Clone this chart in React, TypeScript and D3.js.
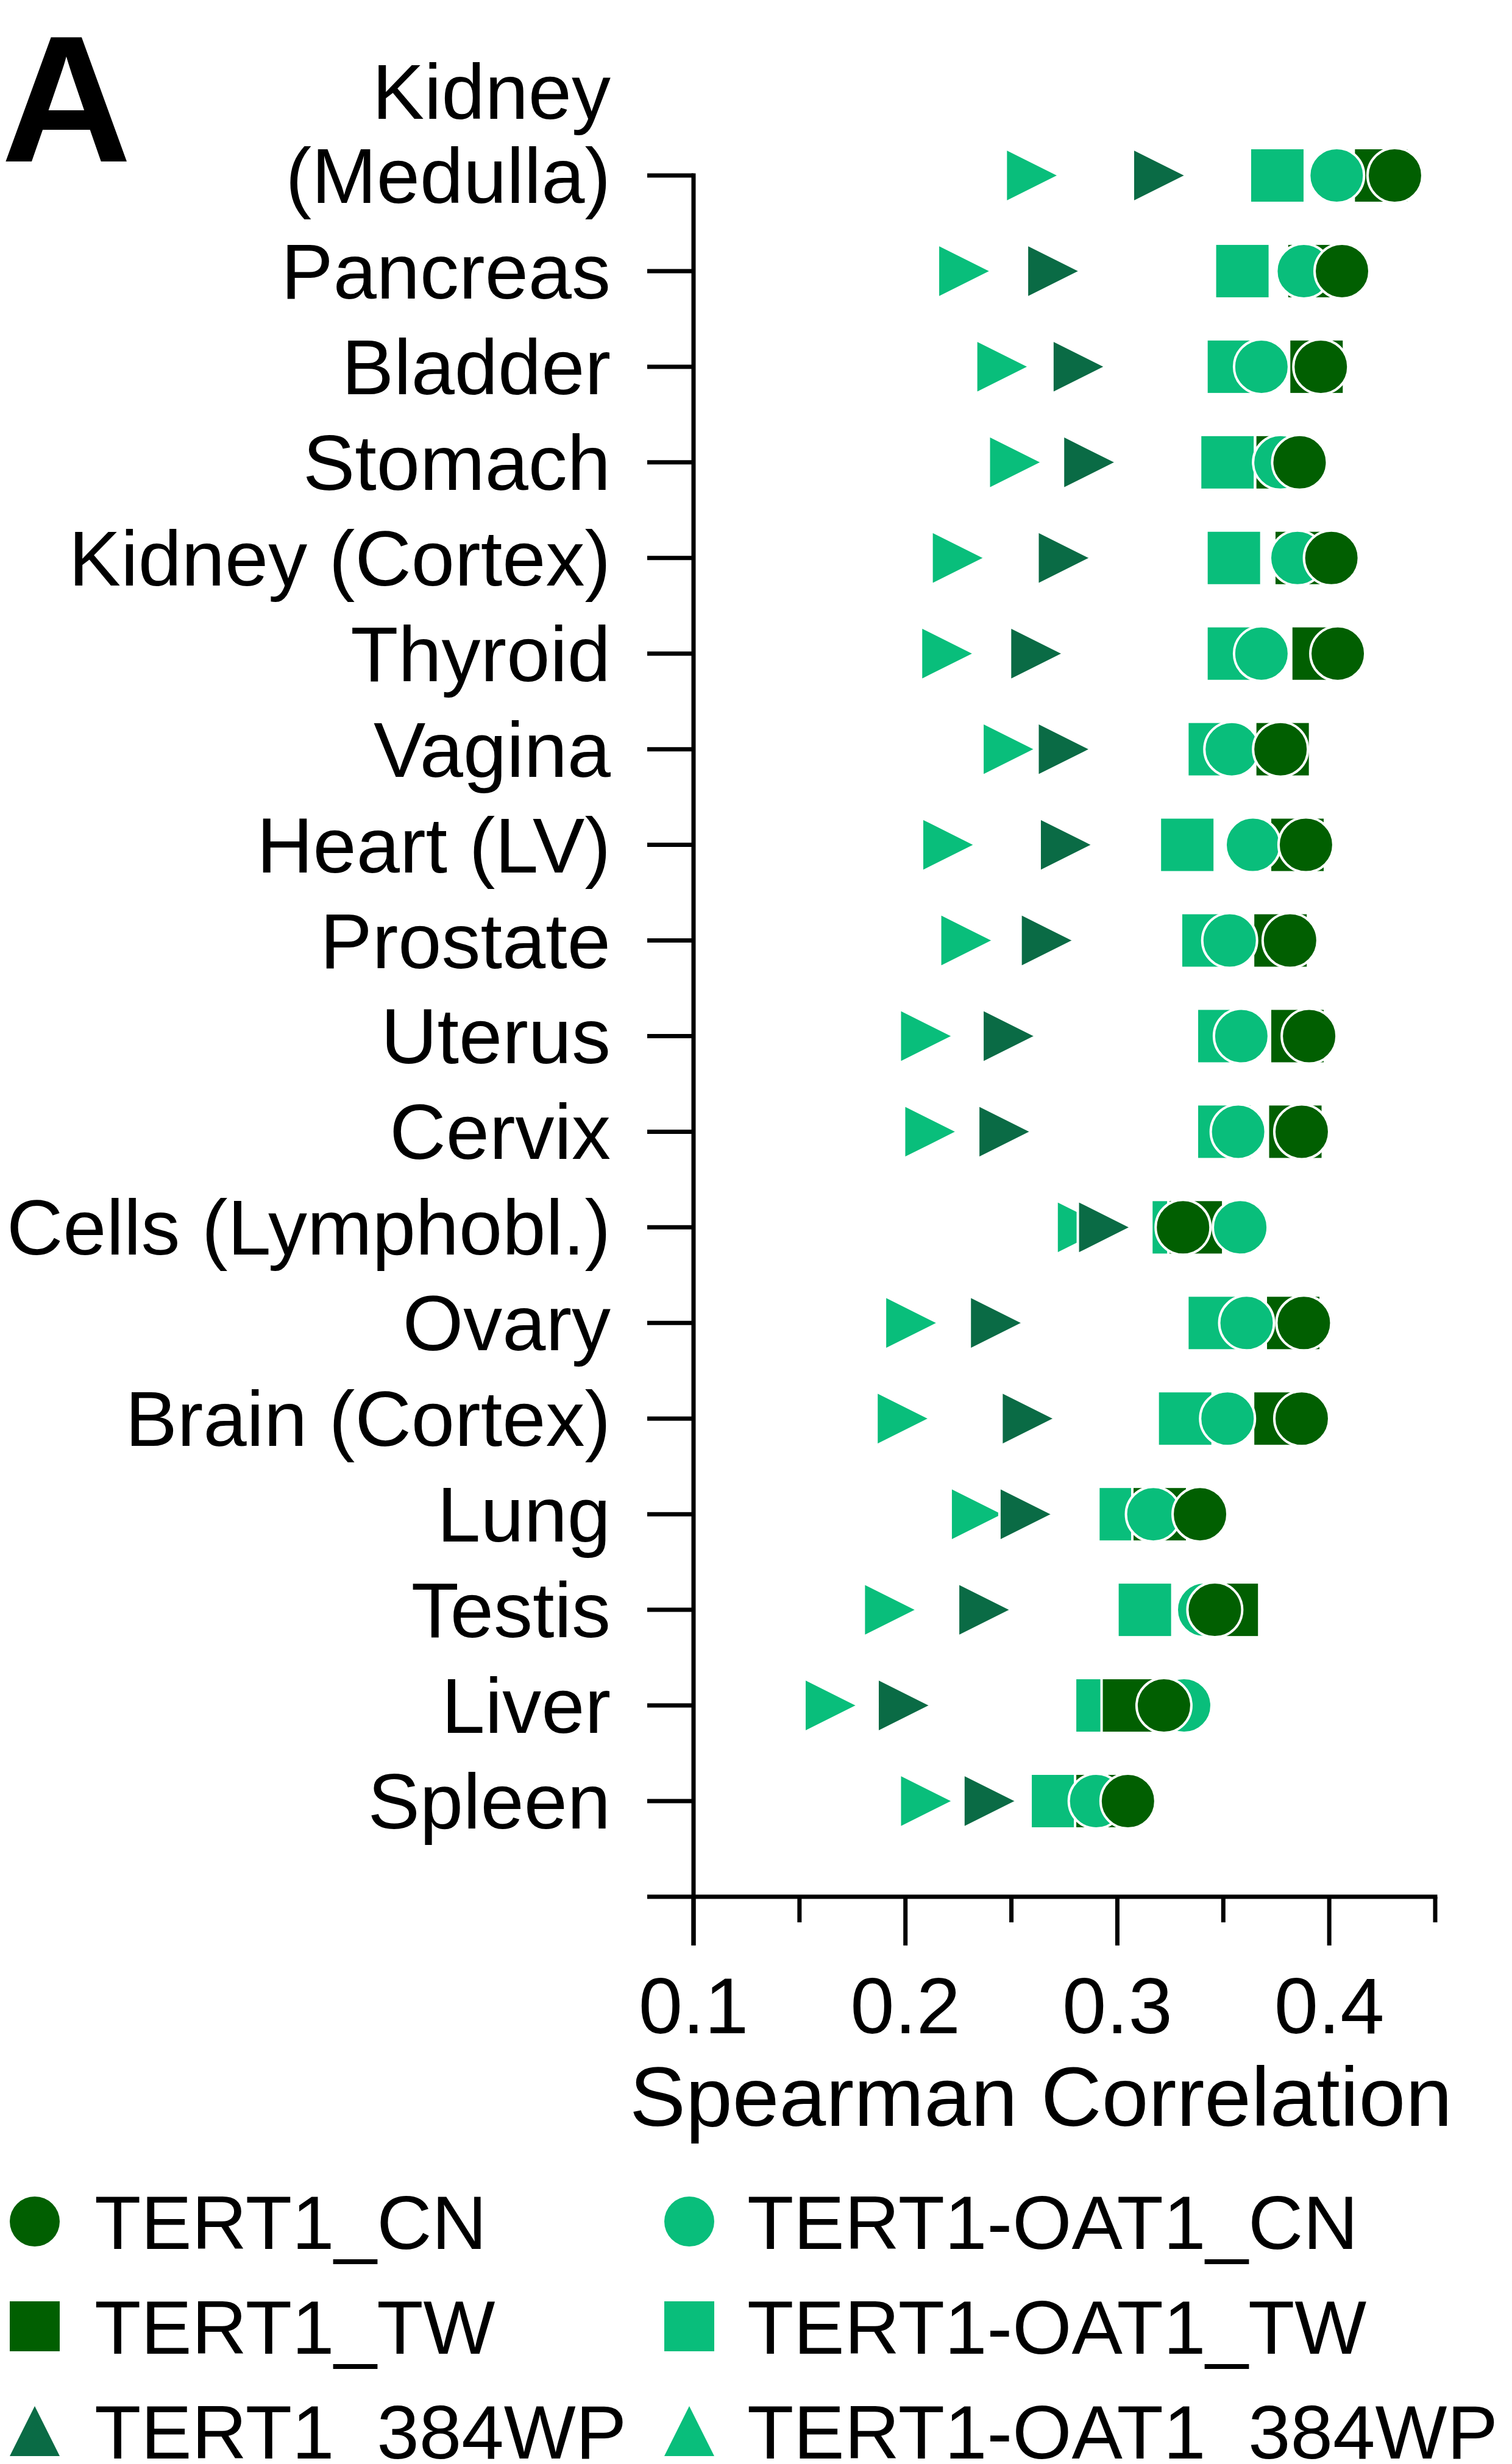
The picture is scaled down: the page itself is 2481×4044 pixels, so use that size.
import React from "react";
import * as d3 from "d3";

const categories = [
  "Kidney (Medulla)", "Pancreas", "Bladder", "Stomach", "Kidney (Cortex)", "Thyroid",
  "Vagina", "Heart (LV)", "Prostate", "Uterus", "Cervix", "Cells (Lymphobl.)",
  "Ovary", "Brain (Cortex)", "Lung", "Testis", "Liver", "Spleen",
];

const tert1CN = [0.431, 0.406, 0.396, 0.386, 0.401, 0.404, 0.377, 0.389, 0.3815, 0.3905, 0.387, 0.331, 0.388, 0.387, 0.339, 0.346, 0.322, 0.305];
const tert1OAT1CN = [0.4035, 0.388, 0.368, 0.377, 0.385, 0.368, 0.354, 0.364, 0.353, 0.3585, 0.357, 0.358, 0.361, 0.352, 0.317, 0.341, 0.3315, 0.29];
const tert1TW = [0.4245, 0.393, 0.394, 0.378, 0.387, 0.395, 0.378, 0.385, 0.377, 0.385, 0.384, 0.337, 0.383, 0.377, 0.32, 0.354, 0.3055, 0.293];
const tert1OAT1TW = [0.3755, 0.359, 0.355, 0.352, 0.355, 0.355, 0.346, 0.333, 0.343, 0.3505, 0.3505, 0.329, 0.346, 0.332, 0.304, 0.313, 0.293, 0.272];
const tert1384WP = [0.32, 0.27, 0.282, 0.287, 0.275, 0.262, 0.275, 0.276, 0.267, 0.249, 0.247, 0.294, 0.243, 0.258, 0.257, 0.2375, 0.1995, 0.24];
const tert1OAT1384WP = [0.26, 0.228, 0.246, 0.252, 0.225, 0.22, 0.249, 0.2205, 0.229, 0.21, 0.212, 0.284, 0.203, 0.199, 0.234, 0.193, 0.165, 0.21];

const majorTicks = [0.1, 0.2, 0.3, 0.4];
const minorTicks = [0.15, 0.25, 0.35, 0.45];

const DARK = "#015f01";
const LIGHT = "#09be7b";
const TEAL = "#0a6b45";

const FONT = "'Liberation Sans', Arial, Helvetica, sans-serif";

type Shape = "circle" | "square" | "triRight" | "triUp";

const seriesDraw: { name: string; values: number[]; shape: Shape; color: string }[] = [
  { name: "TERT1-OAT1_384WP", values: tert1OAT1384WP, shape: "triRight", color: LIGHT },
  { name: "TERT1_384WP", values: tert1384WP, shape: "triRight", color: TEAL },
  { name: "TERT1-OAT1_TW", values: tert1OAT1TW, shape: "square", color: LIGHT },
  { name: "TERT1_TW", values: tert1TW, shape: "square", color: DARK },
  { name: "TERT1-OAT1_CN", values: tert1OAT1CN, shape: "circle", color: LIGHT },
  { name: "TERT1_CN", values: tert1CN, shape: "circle", color: DARK },
];

const legendItems: { name: string; shape: Shape; color: string }[] = [
  { name: "TERT1_CN", shape: "circle", color: DARK },
  { name: "TERT1-OAT1_CN", shape: "circle", color: LIGHT },
  { name: "TERT1_TW", shape: "square", color: DARK },
  { name: "TERT1-OAT1_TW", shape: "square", color: LIGHT },
  { name: "TERT1_384WP", shape: "triUp", color: TEAL },
  { name: "TERT1-OAT1_384WP", shape: "triUp", color: LIGHT },
];

function Marker({ shape, cx, cy, size, color, stroke }: { shape: Shape; cx: number; cy: number; size: number; color: string; stroke: boolean }) {
  const h = size / 2;
  const sw = stroke ? 4 : 0;
  const common = { fill: color, stroke: stroke ? "#fff" : "none", strokeWidth: sw };
  if (shape === "circle") return <ellipse cx={cx} cy={cy} rx={h} ry={h} {...common} />;
  if (shape === "square") return <rect x={cx - h} y={cy - h} width={size} height={size} {...common} />;
  if (shape === "triRight")
    return <path d={`M${cx - h},${cy - h} L${cx + h},${cy} L${cx - h},${cy + h} Z`} {...common} strokeLinejoin="miter" />;
  return <path d={`M${cx},${cy - h} L${cx + h},${cy + h} L${cx - h},${cy + h} Z`} {...common} />;
}

export default function App() {
  const x = d3.scaleLinear().domain([0.1, 0.45]).range([1138, 2355]);
  const y = d3.scalePoint<string>().domain(categories).range([288, 2956]);
  const axisY = 3113;
  const axisX = x(0.1);

  return (
    <svg
      width={2481}
      height={4044}
      viewBox="0 0 2481 4044"
      style={{ position: "absolute", left: 0, top: 0, background: "#fff" }}
      fontFamily={FONT}
    >
      <rect x={0} y={0} width={2481} height={4044} fill="#fff" />
      {/* Panel letter */}
      <text x={2} y={265} fontSize={296} fontWeight="bold" fill="#000">A</text>

      {/* Y axis */}
      <line x1={axisX} x2={axisX} y1={y(categories[0])! - 3.5} y2={axisY + 80} stroke="#000" strokeWidth={7} />
      {categories.map((c) => (
        <line key={"yt" + c} x1={1062} x2={axisX} y1={y(c)} y2={y(c)} stroke="#000" strokeWidth={7} />
      ))}
      {categories.map((c) => {
        const yy = y(c)!;
        if (c === "Kidney (Medulla)") {
          return (
            <g key={"yl" + c}>
              <text x={1002} y={yy - 93} textAnchor="end" fontSize={128} fill="#000">Kidney</text>
              <text x={1002} y={yy + 45} textAnchor="end" fontSize={128} fill="#000">(Medulla)</text>
            </g>
          );
        }
        return (
          <text key={"yl" + c} x={1002} y={yy + 45} textAnchor="end" fontSize={128} fill="#000">{c}</text>
        );
      })}

      {/* X axis */}
      <line x1={1062} x2={x(0.45) + 3.5} y1={axisY} y2={axisY} stroke="#000" strokeWidth={7} />
      {majorTicks.map((t) => (
        <line key={"mt" + t} x1={x(t)} x2={x(t)} y1={axisY} y2={axisY + 80} stroke="#000" strokeWidth={7} />
      ))}
      {minorTicks.map((t) => (
        <line key={"nt" + t} x1={x(t)} x2={x(t)} y1={axisY} y2={axisY + 42} stroke="#000" strokeWidth={7} />
      ))}
      {majorTicks.map((t) => (
        <text key={"tl" + t} x={x(t)} y={3337} textAnchor="middle" fontSize={130} fill="#000">{d3.format(".1f")(t)}</text>
      ))}
      <text x={1708} y={3489} textAnchor="middle" fontSize={138} fill="#000">Spearman Correlation</text>

      {/* Markers */}
      {seriesDraw.map((s) => (
        <g key={s.name}>
          {categories.map((c, i) => (
            <Marker key={c} shape={s.shape} cx={x(s.values[i])} cy={y(c)!} size={s.shape === "triRight" ? 88 : 90} color={s.color} stroke={true} />
          ))}
        </g>
      ))}

      {/* Legend */}
      {legendItems.map((it, i) => {
        const col = i % 2;
        const row = Math.floor(i / 2);
        const mx = col === 0 ? 57 : 1131;
        const tx = col === 0 ? 155 : 1226;
        const cy = 3646 + row * 172;
        return (
          <g key={"lg" + it.name}>
            <Marker shape={it.shape} cx={mx} cy={cy} size={82} color={it.color} stroke={false} />
            <text x={tx} y={cy + 45} fontSize={125} fill="#000">{it.name}</text>
          </g>
        );
      })}
    </svg>
  );
}
